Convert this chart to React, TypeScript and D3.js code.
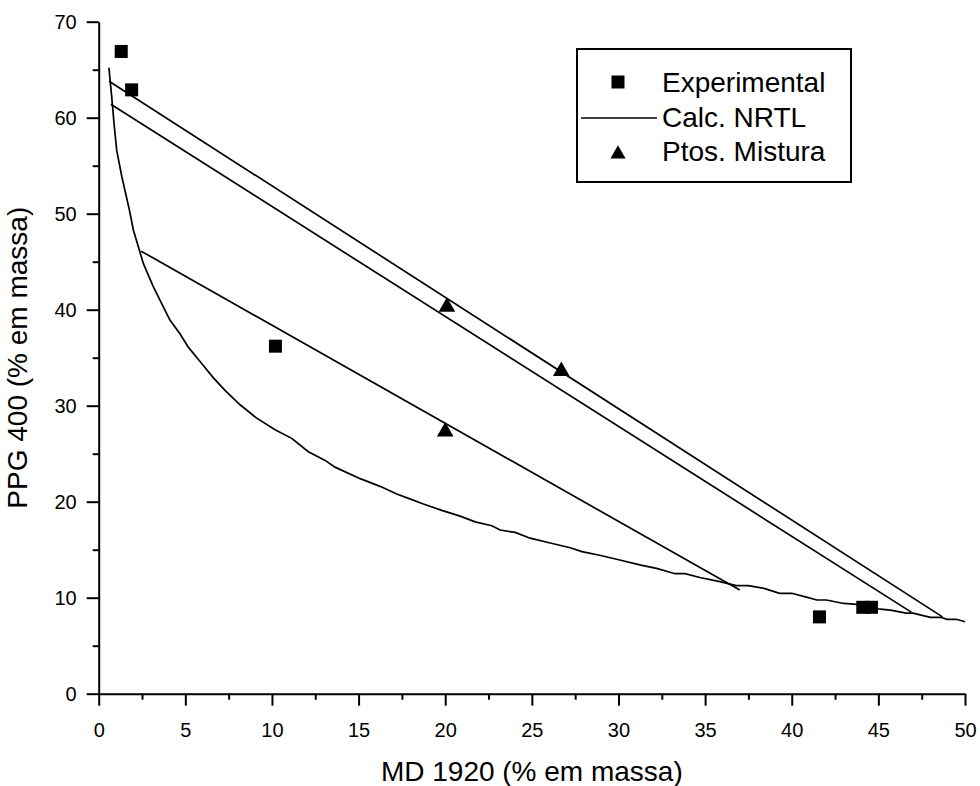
import React, { useEffect, useRef } from "react";
import * as d3 from "d3";

// experimental tie-line points (MD 1920 %, PPG 400 %)
const expX = [1.3, 1.9, 10.2, 41.6, 44.1, 44.6];
const expY = [66.9, 62.9, 36.2, 8.0, 9.0, 9.0];

// mixture points
const mixX = [20.1, 26.7, 20.0];
const mixY = [40.3, 33.6, 27.3];

// calculated NRTL tie lines: [x1, y1, x2, y2]
const tieLines = [
  [0.6, 63.8, 48.7, 8.0],
  [0.7, 61.4, 46.9, 8.5],
  [2.45, 46.1, 37.0, 10.8],
];

// calculated NRTL binodal curve
const binodalX = [
  0.59, 0.75, 0.9, 1.04, 1.33, 1.77, 2.0, 2.38, 2.58, 3.15, 3.73, 4.12, 4.69,
  5.17, 5.85, 6.62, 7.29, 8.16, 9.12, 10.18, 11.14, 12.1, 13.07, 13.64, 15.09,
  16.24, 17.2, 17.88, 18.74, 19.8, 20.86, 21.73, 22.69, 23.17, 24.04, 24.9,
  26.06, 27.21, 27.89, 28.98, 30.13, 31.29, 32.2, 33.27, 33.84, 34.7, 35.85,
  36.8, 37.5, 38.4, 39.3, 40.0, 40.9, 41.45, 42.0, 43.0, 43.76, 45.1, 45.7,
  46.6, 47.0, 48.0, 48.6, 48.96, 49.5, 50.0,
];
const binodalY = [
  65.2, 62.2, 59.1, 56.6, 53.9, 50.4, 48.3, 46.0, 44.8, 42.4, 40.3, 38.9, 37.5,
  36.1, 34.6, 32.9, 31.6, 30.1, 28.7, 27.5, 26.6, 25.2, 24.3, 23.6, 22.4, 21.6,
  20.8, 20.35, 19.76, 19.1, 18.5, 17.9, 17.5, 17.05, 16.8, 16.2, 15.7, 15.2,
  14.8, 14.4, 13.9, 13.4, 13.06, 12.5, 12.5, 12.1, 11.67, 11.25, 11.25, 10.97,
  10.46, 10.46, 10.04, 9.76, 9.76, 9.4, 9.3, 8.8, 8.7, 8.4, 8.4, 7.96, 7.96,
  7.75, 7.75, 7.5,
];

const xMajor = [0, 5, 10, 15, 20, 25, 30, 35, 40, 45, 50];
const xMinor = [2.5, 7.5, 12.5, 17.5, 22.5, 27.5, 32.5, 37.5, 42.5, 47.5];
const yMajor = [0, 10, 20, 30, 40, 50, 60, 70];
const yMinor = [5, 15, 25, 35, 45, 55, 65];

const legendItems = ["Experimental", "Calc. NRTL", "Ptos. Mistura"];

const FONT = "'Liberation Sans', Arial, Helvetica, sans-serif";

const App = () => {
  const svgRef = useRef(null);

  useEffect(() => {
    draw();
  }, []);

  const draw = () => {
    const width = 980;
    const height = 786;
    const svg = d3.select(svgRef.current);
    svg.selectAll("*").remove();
    svg.attr("width", width).attr("height", height);

    const x = d3.scaleLinear().domain([0, 50]).range([98.7, 965]);
    const y = d3.scaleLinear().domain([0, 70]).range([693.7, 21.7]);

    // axes: minor ticks first, then major ticks with labels
    const xg = svg.append("g").attr("transform", `translate(0, ${y(0)})`);
    xg.append("g")
      .call(d3.axisBottom(x).tickValues(xMinor).tickSize(6).tickSizeOuter(0).tickFormat(() => ""))
      .call((g) => g.select(".domain").remove());
    xg.append("g")
      .call(d3.axisBottom(x).tickValues(xMajor).tickSize(12).tickSizeOuter(0).tickPadding(17).tickFormat(d3.format("d")));

    const yg = svg.append("g").attr("transform", `translate(${x(0)}, 0)`);
    yg.append("g")
      .call(d3.axisLeft(y).tickValues(yMinor).tickSize(6).tickSizeOuter(0).tickFormat(() => ""))
      .call((g) => g.select(".domain").remove());
    yg.append("g")
      .call(d3.axisLeft(y).tickValues(yMajor).tickSize(12).tickSizeOuter(0).tickPadding(10).tickFormat(d3.format("d")));

    svg.selectAll(".domain, .tick line").attr("stroke", "#000").attr("stroke-width", 2);
    svg.selectAll(".tick text")
      .attr("fill", "#000")
      .attr("font-family", FONT)
      .attr("font-size", 20);

    // axis titles
    svg.append("text")
      .attr("x", (x(0) + x(50)) / 2)
      .attr("y", 781)
      .attr("text-anchor", "middle")
      .attr("font-family", FONT)
      .attr("font-size", 28)
      .text("MD 1920 (% em massa)");

    svg.append("text")
      .attr("transform", `translate(27, ${(y(0) + y(70)) / 2}) rotate(-90)`)
      .attr("text-anchor", "middle")
      .attr("font-family", FONT)
      .attr("font-size", 28)
      .text("PPG 400 (% em massa)");

    // binodal curve
    const curve = d3.line().x((d) => x(d[0])).y((d) => y(d[1]));
    svg.append("path")
      .datum(binodalX.map((v, i) => [v, binodalY[i]]))
      .attr("d", curve)
      .attr("fill", "none")
      .attr("stroke", "#000")
      .attr("stroke-width", 1.7);

    // tie lines
    svg.append("g")
      .selectAll("line")
      .data(tieLines)
      .join("line")
      .attr("x1", (d) => x(d[0]))
      .attr("y1", (d) => y(d[1]))
      .attr("x2", (d) => x(d[2]))
      .attr("y2", (d) => y(d[3]))
      .attr("stroke", "#000")
      .attr("stroke-width", 1.7);

    // experimental squares
    const sq = 13;
    svg.append("g")
      .selectAll("rect")
      .data(expX.map((v, i) => [v, expY[i]]))
      .join("rect")
      .attr("x", (d) => x(d[0]) - sq / 2)
      .attr("y", (d) => y(d[1]) - sq / 2)
      .attr("width", sq)
      .attr("height", sq)
      .attr("fill", "#000");

    // mixture triangles
    const tri = d3.symbol().type(d3.symbolTriangle).size(120);
    svg.append("g")
      .selectAll("path")
      .data(mixX.map((v, i) => [v, mixY[i]]))
      .join("path")
      .attr("transform", (d) => `translate(${x(d[0])}, ${y(d[1])})`)
      .attr("d", tri)
      .attr("fill", "#000");

    // legend
    const lg = svg.append("g");
    lg.append("rect")
      .attr("x", 577)
      .attr("y", 49)
      .attr("width", 274)
      .attr("height", 133)
      .attr("fill", "#fff")
      .attr("stroke", "#000")
      .attr("stroke-width", 2);

    const rowY = [92, 127, 161];
    lg.selectAll("text")
      .data(legendItems)
      .join("text")
      .attr("x", 662)
      .attr("y", (d, i) => rowY[i])
      .attr("font-family", FONT)
      .attr("font-size", 28)
      .text((d) => d);

    lg.append("rect")
      .attr("x", 618 - sq / 2)
      .attr("y", 82 - sq / 2)
      .attr("width", sq)
      .attr("height", sq)
      .attr("fill", "#000");
    lg.append("line")
      .attr("x1", 581)
      .attr("x2", 657)
      .attr("y1", 118)
      .attr("y2", 118)
      .attr("stroke", "#000")
      .attr("stroke-width", 1.7);
    lg.append("path")
      .attr("transform", "translate(618, 154)")
      .attr("d", d3.symbol().type(d3.symbolTriangle).size(100))
      .attr("fill", "#000");
  };

  return (
    <div>
      <svg ref={svgRef} style={{ position: "absolute", left: 0, top: 0 }} />
    </div>
  );
};

export default App;
